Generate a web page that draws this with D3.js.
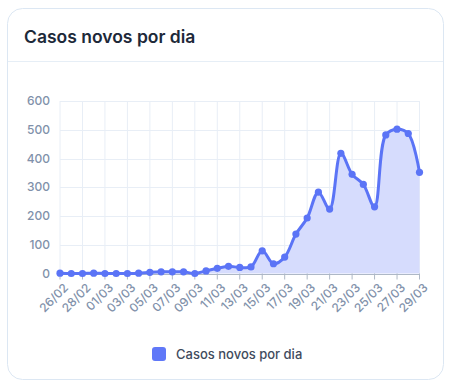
<!DOCTYPE html>
<html>
<head>
<meta charset="utf-8">
<script src="https://cdn.jsdelivr.net/npm/d3@7"></script>
<style>
  html, body { margin: 0; padding: 0; background: #ffffff; }
  svg { display: block; font-family: Inter, "Noto Sans", sans-serif; }
</style>
</head>
<body>
<svg id="chart" width="451" height="387"></svg>
<script>
const dates = ["26/02","27/02","28/02","29/02","01/03","02/03","03/03","04/03","05/03","06/03","07/03","08/03","09/03","10/03","11/03","12/03","13/03","14/03","15/03","16/03","17/03","18/03","19/03","20/03","21/03","22/03","23/03","24/03","25/03","26/03","27/03","28/03","29/03"];
const newCases = [1,0,0,1,0,0,0,1,4,6,6,6,0,9,18,25,21,23,79,34,57,137,193,283,224,418,345,310,232,482,502,487,352];
const yTicks = [0,100,200,300,400,500,600];
const xTickLabels = dates.filter((d, i) => i % 2 === 0);
const title = "Casos novos por dia";
const seriesName = "Casos novos por dia";

const svg = d3.select("#chart");
const lineColor = "#5b74f6";

// Card
svg.append("rect").attr("x", 7.5).attr("y", 8.5).attr("width", 436).attr("height", 371)
  .attr("rx", 15).attr("fill", "#fff").attr("stroke", "#dce7f3").attr("stroke-width", 1);
svg.append("line").attr("x1", 8).attr("x2", 443).attr("y1", 61.5).attr("y2", 61.5)
  .attr("stroke", "#e6eef6");
svg.append("text").attr("x", 24).attr("y", 43).text(title)
  .attr("font-size", 17.5).attr("font-weight", 600).attr("fill", "#1d2939");

const x = d3.scalePoint().domain(dates).range([60, 419.5]);
const y = d3.scaleLinear().domain([0, 600]).range([273.5, 101]);

const g = svg.append("g");

// grid
g.selectAll(".hg").data(yTicks).join("line")
  .attr("x1", 60).attr("x2", 419.5)
  .attr("y1", d => Math.round(y(d)) + 0.5).attr("y2", d => Math.round(y(d)) + 0.5)
  .attr("stroke", "#e8eef6");
g.selectAll(".vg").data(xTickLabels).join("line")
  .attr("x1", d => x(d)).attr("x2", d => x(d))
  .attr("y1", y(600)).attr("y2", y(0))
  .attr("stroke", "#e8eef6");

// y axis labels
g.selectAll(".yl").data(yTicks).join("text")
  .attr("x", 50).attr("y", d => y(d) + 4)
  .attr("text-anchor", "end").attr("font-size", 12).attr("font-weight", 500)
  .attr("fill", "#8191aa").text(d => d);

// area + line
const area = d3.area().x((d, i) => x(dates[i])).y0(y(0)).y1(d => y(d)).curve(d3.curveCatmullRom.alpha(0.5));
const line = d3.line().x((d, i) => x(dates[i])).y(d => y(d)).curve(d3.curveCatmullRom.alpha(0.5));
g.append("path").datum(newCases).attr("d", area).attr("fill", "#d6dcfd");

// x axis line
g.append("line").attr("x1", 60).attr("x2", 419.5).attr("y1", Math.round(y(0)) + 0.5).attr("y2", Math.round(y(0)) + 0.5)
  .attr("stroke", "#aeb8c6");
g.selectAll(".xt").data(xTickLabels).join("line")
  .attr("x1", d => x(d)).attr("x2", d => x(d))
  .attr("y1", y(0)).attr("y2", y(0) + 6)
  .attr("stroke", "#aeb8c6");

g.append("path").datum(newCases).attr("d", line).attr("fill", "none")
  .attr("stroke", lineColor).attr("stroke-width", 3).attr("stroke-linejoin", "round");
g.selectAll(".pt").data(newCases).join("circle")
  .attr("cx", (d, i) => x(dates[i])).attr("cy", d => y(d)).attr("r", 3.6)
  .attr("fill", lineColor);

// x labels
g.selectAll(".xl").data(xTickLabels).join("text")
  .attr("transform", d => `translate(${x(d) + 3},${y(0) + 9}) rotate(-45)`)
  .attr("text-anchor", "end").attr("dy", "0.71em").attr("font-size", 12).attr("font-weight", 500)
  .attr("fill", "#8191aa").text(d => d);

// legend
svg.append("rect").attr("x", 152).attr("y", 347).attr("width", 14).attr("height", 14)
  .attr("rx", 3).attr("fill", "#6078f8");
svg.append("text").attr("x", 176).attr("y", 359).text(seriesName)
  .attr("font-size", 13).attr("font-weight", 500).attr("fill", "#3f4b5d");
</script>
</body>
</html>
